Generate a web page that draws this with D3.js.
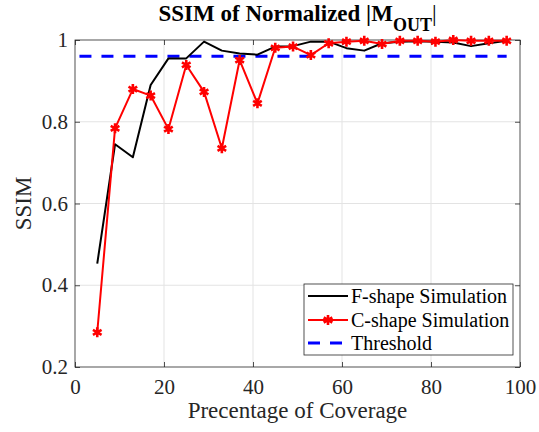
<!DOCTYPE html>
<html>
<head>
<meta charset="utf-8">
<script src="https://cdn.jsdelivr.net/npm/d3@7"></script>
<style>
  html, body { margin: 0; padding: 0; background: #fff; }
  svg { display: block; }
  svg text { font-family: "Liberation Serif", "DejaVu Serif", serif; }
</style>
</head>
<body>
<svg id="chart" width="539" height="432"></svg>
<script>
// Coverage percentages at which both shapes were simulated
const coverage = [5, 9, 13, 17, 21, 25, 29, 33, 37, 41, 45, 49, 53, 57, 61, 65, 69, 73, 77, 81, 85, 89, 93, 97];
// SSIM values per shape
const fShape = [0.453, 0.745, 0.713, 0.890, 0.955, 0.955, 0.996, 0.974, 0.967, 0.964, 0.984, 0.985,
                0.996, 0.996, 0.980, 0.974, 0.992, 0.996, 0.997, 0.996, 0.994, 0.985, 0.992, 0.998];
const cShape = [0.285, 0.784, 0.880, 0.864, 0.782, 0.939, 0.873, 0.735, 0.951, 0.845, 0.981, 0.984,
                0.963, 0.992, 0.996, 0.998, 0.990, 0.998, 0.998, 0.996, 1.000, 0.998, 0.998, 0.998];
const thresholdValue = 0.96;
const thresholdSpan = [1, 97];
const xTicks = [0, 20, 40, 60, 80, 100];
const yTicks = [0.2, 0.4, 0.6, 0.8, 1];
const legendLabels = ["F-shape Simulation", "C-shape Simulation", "Threshold"];

const SERIF = '"Liberation Serif", "DejaVu Serif", serif';
const svg = d3.select("#chart");
const m = { left: 75, right: 520, top: 40, bottom: 367 };
const axisColor = "#262626";

const x = d3.scaleLinear().domain([0, 100]).range([m.left, m.right]);
const y = d3.scaleLinear().domain([0.2, 1]).range([m.bottom, m.top]);

// Grid
const grid = svg.append("g");
grid.selectAll("line.gx").data(xTicks.slice(1, -1)).join("line")
  .attr("x1", d => x(d)).attr("x2", d => x(d))
  .attr("y1", m.top).attr("y2", m.bottom)
  .attr("stroke", "#e3e3e3").attr("stroke-width", 1);
grid.selectAll("line.gy").data(yTicks.slice(1, -1)).join("line")
  .attr("x1", m.left).attr("x2", m.right)
  .attr("y1", d => y(d)).attr("y2", d => y(d))
  .attr("stroke", "#e3e3e3").attr("stroke-width", 1);

// Axes (ticks pointing inward, mirrored on top/right)
const tickLen = 5;
const fontSize = 21;
const xAxis = svg.append("g").attr("transform", `translate(0,${m.bottom})`)
  .call(d3.axisBottom(x).tickValues(xTicks).tickSize(-tickLen).tickPadding(12).tickFormat(d3.format("d")));
const yAxis = svg.append("g").attr("transform", `translate(${m.left},0)`)
  .call(d3.axisLeft(y).tickValues(yTicks).tickSize(-tickLen).tickPadding(7).tickFormat(d => d === 1 ? "1" : d3.format(".1f")(d)));
const xTop = svg.append("g").attr("transform", `translate(0,${m.top})`)
  .call(d3.axisTop(x).tickValues(xTicks).tickSize(-tickLen).tickFormat(""));
const yRight = svg.append("g").attr("transform", `translate(${m.right},0)`)
  .call(d3.axisRight(y).tickValues(yTicks).tickSize(-tickLen).tickFormat(""));
[xAxis, yAxis, xTop, yRight].forEach(g => {
  g.attr("font-family", SERIF).attr("font-size", fontSize);
  g.select(".domain").remove();
  g.selectAll(".tick line").attr("stroke", axisColor).attr("stroke-width", 0.8);
  g.selectAll(".tick text").attr("fill", axisColor);
});
xAxis.selectAll(".tick text").attr("dy", "0.71em");

// Box
svg.append("rect")
  .attr("x", m.left).attr("y", m.top)
  .attr("width", m.right - m.left).attr("height", m.bottom - m.top)
  .attr("fill", "none").attr("stroke", axisColor).attr("stroke-width", 0.8);

// Threshold
svg.append("line")
  .attr("x1", x(thresholdSpan[0])).attr("x2", x(thresholdSpan[1]))
  .attr("y1", y(thresholdValue)).attr("y2", y(thresholdValue))
  .attr("stroke", "#0000ff").attr("stroke-width", 3).attr("stroke-dasharray", "12,10");

const line = d3.line().x(d => x(d[0])).y(d => y(d[1]));
const fData = coverage.map((c, i) => [c, fShape[i]]);
const cData = coverage.map((c, i) => [c, cShape[i]]);

svg.append("path").datum(fData).attr("d", line)
  .attr("fill", "none").attr("stroke", "#000").attr("stroke-width", 2).attr("stroke-linejoin", "round");
svg.append("path").datum(cData).attr("d", line)
  .attr("fill", "none").attr("stroke", "#ff0000").attr("stroke-width", 2).attr("stroke-linejoin", "round");

const star = d3.symbol().type(d3.symbolAsterisk).size(70);
svg.append("g").selectAll("path").data(cData).join("path")
  .attr("transform", d => `translate(${x(d[0])},${y(d[1])})`)
  .attr("d", star).attr("fill", "none").attr("stroke", "#ff0000").attr("stroke-width", 2.6);

// Labels
svg.append("text").attr("x", (m.left + m.right) / 2).attr("y", 418)
  .attr("text-anchor", "middle").attr("fill", axisColor)
  .attr("font-family", SERIF).attr("font-size", 23)
  .text("Precentage of Coverage");
svg.append("text").attr("transform", `translate(31,${(m.top + m.bottom) / 2}) rotate(-90)`)
  .attr("text-anchor", "middle").attr("fill", axisColor)
  .attr("font-family", SERIF).attr("font-size", 23)
  .text("SSIM");

const title = svg.append("text").attr("x", (m.left + m.right) / 2).attr("y", 21)
  .attr("text-anchor", "middle").attr("fill", "#000")
  .attr("font-family", SERIF).attr("font-size", 23).attr("font-weight", "bold");
title.append("tspan").text("SSIM of Normalized |M");
title.append("tspan").attr("dy", 10).attr("font-size", 18).text("OUT");
title.append("tspan").attr("dy", -10).attr("font-weight", "normal").text("|");

// Legend
const lg = svg.append("g").attr("font-family", SERIF);
const lb = { x: 304, y: 284, w: 209, h: 71 };
lg.append("rect").attr("x", lb.x).attr("y", lb.y).attr("width", lb.w).attr("height", lb.h)
  .attr("fill", "#fff").attr("stroke", axisColor).attr("stroke-width", 0.8);
const rowsY = [296, 320, 343];
const styles = [
  { stroke: "#000", dash: null, width: 2, marker: false },
  { stroke: "#ff0000", dash: null, width: 2, marker: true },
  { stroke: "#0000ff", dash: "12,10", width: 3, marker: false }
];
legendLabels.forEach((lab, i) => {
  const s = styles[i];
  lg.append("line").attr("x1", 308).attr("x2", 348).attr("y1", rowsY[i]).attr("y2", rowsY[i])
    .attr("stroke", s.stroke).attr("stroke-width", s.width).attr("stroke-dasharray", s.dash);
  if (s.marker) {
    lg.append("path").attr("transform", `translate(328,${rowsY[i]})`).attr("d", star)
      .attr("fill", "none").attr("stroke", s.stroke).attr("stroke-width", 2.6);
  }
  lg.append("text").attr("x", 351).attr("y", rowsY[i]).attr("dy", "0.35em")
    .attr("fill", "#000").attr("font-size", 20).text(lab);
});
</script>
</body>
</html>
